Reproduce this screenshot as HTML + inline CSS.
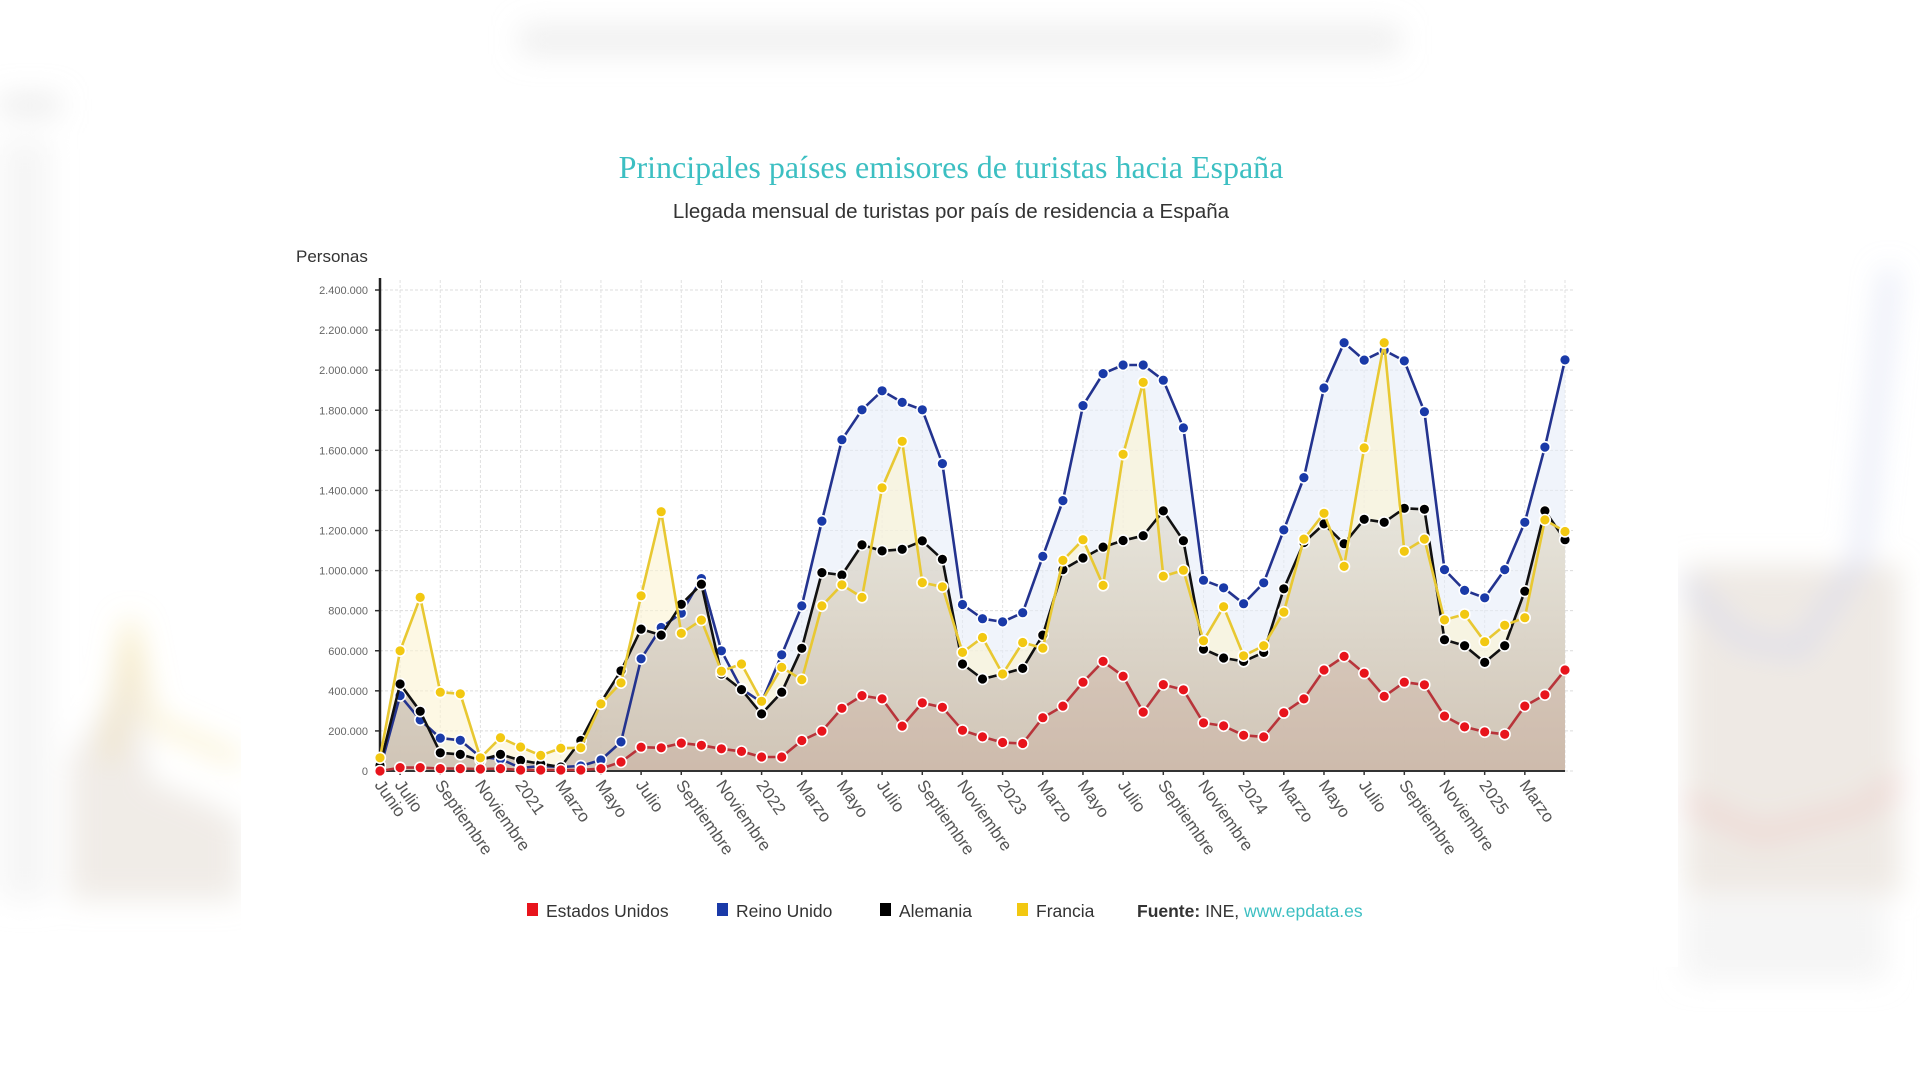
<!DOCTYPE html>
<html lang="es">
<head>
<meta charset="utf-8">
<title>Principales países emisores de turistas hacia España</title>
<style>
  html,body{margin:0;padding:0;background:#fff;}
  body{width:1920px;height:1080px;overflow:hidden;position:relative;font-family:"Liberation Sans",sans-serif;}
  svg{position:absolute;left:0;top:0;}
</style>
</head>
<body>
<svg id="chart" width="1920" height="1080" viewBox="0 0 1920 1080" xmlns="http://www.w3.org/2000/svg">
  <defs>
    <filter id="blur" x="-20%" y="-20%" width="140%" height="140%"><feGaussianBlur stdDeviation="14"/></filter>
    <linearGradient id="gradBase" x1="0" y1="0" x2="0" y2="1">
      <stop offset="0" stop-color="#e4e2da"/>
      <stop offset="1" stop-color="#c9bcae"/>
    </linearGradient>
  </defs>
  <g filter="url(#blur)">
    <rect x="520" y="25" width="880" height="30" fill="#e2e2e2" opacity="0.5"/>
    <rect x="0" y="95" width="60" height="20" fill="#d8d8d8" opacity="0.5"/>
    <rect x="0" y="140" width="50" height="760" fill="#f0f0f0" opacity="0.6"/>
    <path d="M70 900 L70 760 L110 700 L130 630 L150 780 L200 800 L240 820 L240 900 Z" fill="#ddd5ca" opacity="0.45"/>
    <path d="M110 760 L130 620 L150 720 L240 760" stroke="#f3dc8c" stroke-width="14" fill="none" opacity="0.4"/>
    <rect x="1685" y="565" width="215" height="330" fill="#ddd4c9" opacity="0.5"/>
    <path d="M1685 580 L1740 640 L1800 650 L1860 560 L1890 270" stroke="#cfd3ee" stroke-width="14" fill="none" opacity="0.6"/>
    <path d="M1685 800 L1760 835 L1860 810 L1900 780" stroke="#f0b8b8" stroke-width="12" fill="none" opacity="0.5"/>
    <rect x="1685" y="900" width="200" height="80" fill="#ececec" opacity="0.5"/>
  </g>
  <rect x="241" y="135" width="1437" height="832" fill="#fff"/>

  <text x="951" y="178" text-anchor="middle" font-family="'Liberation Serif',serif" font-size="32" fill="#3cbfc2">Principales países emisores de turistas hacia España</text>
  <text x="951" y="218" text-anchor="middle" font-family="'Liberation Sans',sans-serif" font-size="20.5" fill="#333">Llegada mensual de turistas por país de residencia a España</text>
  <text x="296" y="262" font-size="17" fill="#333">Personas</text>

  <g id="grid"></g>
  <g id="areas"></g>
  <g id="axes"></g>
  <g id="series"></g>
  <g id="xlabels"></g>
  <g id="ylabels"></g>

  <g font-size="17.5" fill="#333">
    <g><rect x="527" y="903" width="11" height="13" fill="#e8141c"/><text x="546" y="917">Estados Unidos</text></g>
    <g><rect x="717" y="903" width="11" height="13" fill="#1a3aa8"/><text x="736" y="917">Reino Unido</text></g>
    <g><rect x="880" y="903" width="11" height="13" fill="#000"/><text x="899" y="917">Alemania</text></g>
    <g><rect x="1017" y="903" width="11" height="13" fill="#f2c811"/><text x="1036" y="917">Francia</text></g>
    <text x="1137" y="917"><tspan font-weight="bold">Fuente:</tspan> INE, <tspan fill="#3cbfc2">www.epdata.es</tspan></text>
  </g>
</svg>
<script>
// ---- data (thousands of persons), June 2020 .. May 2025 ----
const yTicks = [0,200,400,600,800,1000,1200,1400,1600,1800,2000,2200,2400];
const yTickLabels = ["0","200.000","400.000","600.000","800.000","1.000.000","1.200.000","1.400.000","1.600.000","1.800.000","2.000.000","2.200.000","2.400.000"];
const xLabelIdx = [0,1,3,5,7,9,11,13,15,17,19,21,23,25,27,29,31,33,35,37,39,41,43,45,47,49,51,53,55,57];
const xLabelText = ["Junio","Julio","Septiembre","Noviembre","2021","Marzo","Mayo","Julio","Septiembre","Noviembre","2022","Marzo","Mayo","Julio","Septiembre","Noviembre","2023","Marzo","Mayo","Julio","Septiembre","Noviembre","2024","Marzo","Mayo","Julio","Septiembre","Noviembre","2025","Marzo"];
const reinoUnido = [10,376,255,164,153,70,60,15,25,20,25,55,145,560,716,788,960,600,410,343,580,824,1247,1653,1802,1897,1839,1802,1534,831,760,744,790,1071,1349,1823,1983,2026,2026,1950,1712,952,914,835,939,1203,1464,1911,2137,2050,2099,2046,1793,1005,901,864,1005,1241,1616,2051];
const alemania = [28,434,298,91,83,55,83,53,36,20,152,343,500,708,678,832,932,484,406,285,393,612,990,978,1128,1098,1106,1148,1056,534,459,484,512,678,1005,1063,1117,1150,1174,1298,1149,608,564,547,592,909,1140,1233,1134,1256,1241,1311,1306,655,625,542,625,897,1298,1154];
const francia = [66,600,866,393,385,66,166,120,78,114,116,335,440,874,1294,687,753,498,534,348,517,456,824,929,866,1413,1645,940,919,592,666,484,641,613,1051,1154,926,1580,1939,972,1002,650,820,575,625,793,1157,1286,1021,1612,2137,1096,1157,754,782,645,727,765,1253,1195];
const estadosUnidos = [0,17,17,12,12,10,12,5,5,5,5,12,45,119,116,139,128,111,98,70,70,152,199,313,376,360,224,340,318,203,170,142,137,266,324,443,547,473,294,431,405,240,225,178,170,291,360,504,572,488,372,443,430,274,220,195,183,324,380,504];

const NS = "http://www.w3.org/2000/svg";
const X0 = 380, X1 = 1565, Y0 = 771, YTOP = 290, YMAX = 2400;
const N = reinoUnido.length;
function xs(i){ return X0 + i*(X1-X0)/(N-1); }
function ys(v){ return Y0 - v/YMAX*(Y0-YTOP); }
function mk(tag, attrs, parent){
  const e = document.createElementNS(NS, tag);
  for (const k in attrs) e.setAttribute(k, attrs[k]);
  parent.appendChild(e);
  return e;
}
const grid = document.getElementById('grid');
const axes = document.getElementById('axes');
const areas = document.getElementById('areas');
const series = document.getElementById('series');
const xl = document.getElementById('xlabels');
const yl = document.getElementById('ylabels');

yTicks.forEach((t,k)=>{
  const l = mk('line',{x1:X0,x2:X1+10,y1:ys(t),y2:ys(t),stroke:'#dcdcdc','stroke-width':1,'stroke-dasharray':'3,2'},grid);
  
  
  const tk = mk('line',{x1:X0-5,x2:X0,y1:ys(t),y2:ys(t),stroke:'#333','stroke-width':1.5},axes);
  
  
  const tx = mk('text',{x:X0-12,y:ys(t)+4,'text-anchor':'end','font-size':11,fill:'#666'},yl);
  tx.textContent = yTickLabels[k];
  
  
});
for (let i=1;i<N;i+=2){
  const l = mk('line',{x1:xs(i),x2:xs(i),y1:YTOP-10,y2:Y0,stroke:'#e0e0e0','stroke-width':1,'stroke-dasharray':'3,2'},grid);
  
  
}
const ya = mk('line',{x1:X0,x2:X0,y1:YTOP-12,y2:Y0,stroke:'#222','stroke-width':2.5},axes);


const xa = mk('line',{x1:X0,x2:X1,y1:Y0,y2:Y0,stroke:'#333','stroke-width':2},axes);



xLabelIdx.forEach((idx,k)=>{
  const x = xs(idx)-6, y = Y0+14;
  const t = mk('text',{x:x,y:y,'font-size':17,fill:'#555',transform:`rotate(55 ${x} ${y})`},xl);
  t.textContent = xLabelText[k];
  
  
  const tk = mk('line',{x1:xs(idx),x2:xs(idx),y1:Y0,y2:Y0+4,stroke:'#333','stroke-width':1.5},axes);
  
  
});

function areaPath(vals){
  let d = `M${xs(0)},${Y0}`;
  vals.forEach((v,i)=>{ d += ` L${xs(i).toFixed(1)},${ys(v).toFixed(1)}`; });
  return d + ` L${xs(vals.length-1)},${Y0} Z`;
}
function linePath(vals){
  return vals.map((v,i)=>(i?'L':'M')+xs(i).toFixed(1)+','+ys(v).toFixed(1)).join(' ');
}
const defs = [
  {vals:reinoUnido, name:'reino-unido', line:'#23338f', dot:'#1a3aa8', fill:'#e6ecf8', fo:0.6},
  {vals:francia, name:'francia', line:'#e8c832', dot:'#f2c811', fill:'#fbf3d2', fo:0.6},
  {vals:alemania, name:'alemania', line:'#111', dot:'#000', fill:'url(#gradBase)', fo:0.85},
  {vals:estadosUnidos, name:'estados-unidos', line:'#b8343a', dot:'#e8141c', fill:'#c9a090', fo:0.25}
];
defs.forEach(s=>{
  const a = mk('path',{d:areaPath(s.vals),fill:s.fill,'fill-opacity':s.fo},areas);
  
  
});
[defs[0],defs[2],defs[1],defs[3]].forEach(s=>{
  const g = mk('g',{},series);
  
  
  const p = mk('path',{d:linePath(s.vals),fill:'none',stroke:s.line,'stroke-width':2.6,'stroke-linejoin':'round'},g);
  
  
  s.vals.forEach((v,i)=>{
    const c = mk('circle',{cx:xs(i).toFixed(1),cy:ys(v).toFixed(1),r:5.4,fill:s.dot,stroke:'#fff','stroke-width':1.6},g);
    
    
  });
});
</script>
</body>
</html>
